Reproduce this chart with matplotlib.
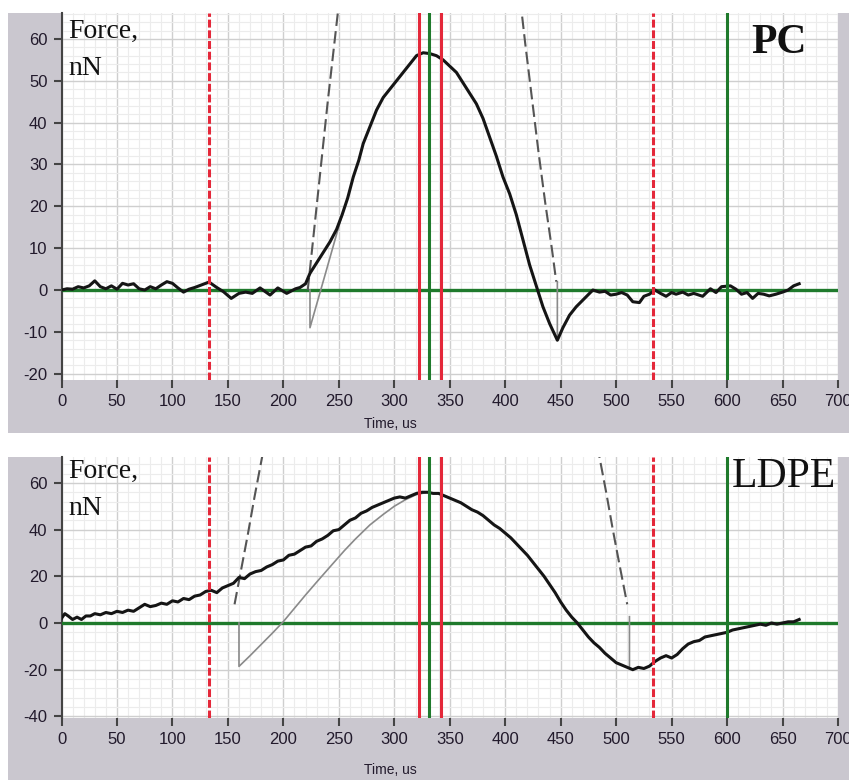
import numpy as np
import matplotlib
matplotlib.use("Agg")
import matplotlib.pyplot as plt
from matplotlib.patches import Rectangle
from matplotlib.ticker import MultipleLocator

plt.rcParams["axes.unicode_minus"] = False

# ---- PC panel data (time in us, force in nN) ----
pc_t = [0, 5, 10, 15, 20, 25, 30, 35, 40, 45, 50, 55, 60, 65, 70, 75, 80, 85, 90, 95,
        100, 105, 110, 115, 120, 126, 133, 140, 146, 153, 160, 166, 172, 179, 188, 195,
        203, 211, 215, 220, 224, 230, 236, 242, 248, 253, 258, 263, 268, 272, 278, 284,
        290, 296, 302, 308, 314, 320, 326, 332, 338, 344, 350, 356, 362, 368, 374, 380,
        386, 392, 398, 404, 410, 416, 422, 428, 434, 440, 447, 452, 458, 464, 470, 479,
        485, 490, 495, 500, 505, 510, 515, 521, 525, 530, 535, 540, 545, 550, 554, 560,
        565, 570, 578, 585, 590, 595, 603, 608, 613, 618, 623, 628, 633, 638, 644, 650,
        655, 660, 665]
pc_f = [0, 0.3, 0.2, 0.8, 0.5, 1.0, 2.2, 0.8, 0.3, 1.0, 0.2, 1.6, 1.2, 1.5, 0.3, 0.0, 0.8, 0.3, 1.2, 2.0,
        1.6, 0.5, -0.5, 0.2, 0.6, 1.2, 1.9, 0.6, -0.4, -2.0, -0.8, -0.5, -0.8, 0.5, -1.2, 0.5,
        -0.8, 0.3, 0.6, 1.5, 4.0, 6.5, 9.0, 11.5, 14.5, 18.0, 22.0, 27.0, 31.0, 35.0, 39.0, 43.0,
        46.0, 48.0, 50.0, 52.0, 54.0, 56.0, 56.7, 56.5, 56.0, 55.0, 53.5, 52.0, 49.5, 47.0, 44.5, 41.0,
        36.5, 32.0, 27.0, 23.0, 18.0, 12.0, 6.0, 1.0, -4.0, -8.0, -12.0, -9.0, -6.0, -4.0, -2.4, 0.0,
        -0.5, -0.3, -1.2, -1.0, -0.6, -1.2, -2.8, -3.0, -1.5, -1.0, 0.0, -0.8, -1.5, -0.6, -1.0, -0.5,
        -1.2, -0.8, -1.5, 0.3, -0.6, 0.8, 1.0, 0.2, -1.0, -0.6, -2.0, -0.8, -1.0, -1.4, -1.0, -0.5,
        0.0, 1.0, 1.5]
# visible parts of the fitted curve (the rest lies under the measured trace)
pc_fit_t = [224, 224, 238, 253, np.nan, 447, 447]
pc_fit_f = [0, -9, 4, 18, np.nan, 2, -11]
pc_dash_t = [222, 228, 234, 240, 246, 252, np.nan, 412, 418, 424, 430, 436, 442, 446]
pc_dash_f = [0, 15, 30, 45, 59, 73, np.nan, 73, 59, 46, 33, 21, 10, 2]

# ---- LDPE panel data ----
ld_t = [0, 3, 6, 10, 14, 18, 22, 26, 30, 35, 40, 45, 50, 55, 60, 65, 70, 75, 80, 85,
        90, 95, 100, 105, 110, 115, 120, 125, 130, 135, 140, 145, 150, 155, 160, 165, 170,
        175, 180, 185, 190, 195, 200, 205, 210, 215, 220, 225, 230, 235, 240, 245, 250,
        255, 260, 265, 270, 275, 280, 285, 290, 295, 300, 305, 310, 315, 320, 325, 330,
        335, 340, 345, 350, 355, 360, 365, 370, 375, 380, 385, 390, 395, 400, 405, 410,
        415, 420, 425, 430, 435, 440, 445, 450, 455, 460, 465, 470, 475, 480, 485, 490,
        495, 500, 505, 510, 515, 520, 525, 530, 535, 540, 545, 550, 555, 560, 565, 570,
        575, 580, 585, 590, 595, 600, 605, 610, 615, 620, 625, 630, 635, 640, 645, 650,
        655, 660, 665]
ld_f = [2, 4, 3, 1.5, 2.5, 1.5, 3, 3, 4, 3.5, 4.5, 4, 5, 4.5, 5.5, 5, 6.5, 8, 7, 7.5,
        8.5, 8, 9.5, 9, 10.5, 10, 11.5, 12, 13.5, 14, 13, 15, 16, 17, 19.5, 19, 21,
        22, 22.5, 24, 25, 26.5, 27, 29, 29.5, 31, 32.5, 33, 35, 36, 37.5, 39.5, 40,
        42, 44, 45, 47, 48, 49.5, 50.5, 51.5, 52.5, 53.5, 54, 53.5, 54.5, 55.5, 56, 56,
        55.5, 55.5, 54.5, 53.5, 52.5, 51.5, 50, 48.5, 47.5, 46, 44, 42, 40.5, 38.5, 36.5, 34,
        31.5, 29, 26, 23, 20, 16.5, 13, 9, 5.5, 2.5, 0, -3, -6, -8.5, -10.5, -13,
        -15, -17, -18, -19, -20, -19, -19.5, -18.5, -16.5, -15, -14, -15, -13.5, -11, -9, -8,
        -7.5, -6, -5.5, -5, -4.5, -4, -3, -2.5, -2, -1.5, -1, -0.5, -1, 0, -0.5, 0,
        0.5, 0.5, 1.5]
ld_fit_t = [160, 160, 170, 180, 190, 200, 210, 220, 230, 242, 255, 265, 278, 290, 300, 310,
            320, 330, np.nan, 512, 512]
ld_fit_f = [0, -18.6, -14, -9.2, -4.4, 0.6, 6.3, 12, 17.5, 24, 31, 36, 42, 46.5, 50, 52.8,
            55, 56, np.nan, -19.5, 2.7]
ld_dash_t = [156, 162, 168, 174, 180, 184, np.nan, 483, 485, 491, 497, 503, 510]
ld_dash_f = [8, 23, 38, 54, 69, 79, np.nan, 76, 71, 56, 40, 25, 8]

# marker lines
red_dashed_x = [133, 533]
red_solid_x = [322, 342]
green_x = [331, 600]

panel_labels = ["PC", "LDPE"]
y_limits = [(-21.5, 66.2), (-40.7, 71.1)]
y_major = [10, 20]

RED = "#e4283a"
GREEN = "#1f7a2c"
FRAME = "#cac7cf"
TXT = "#221a2c"
TICKFONT = ["Liberation Sans", "DejaVu Sans"]

fig = plt.figure(figsize=(8.49, 7.8), dpi=100)
W, H = 849.0, 780.0

# grey instrument-style frames behind each graph
fig.patches.append(Rectangle((8 / W, 1 - 433 / H), 1, 420 / H, transform=fig.transFigure,
                             facecolor=FRAME, edgecolor="none", zorder=-5))
fig.patches.append(Rectangle((8 / W, 0), 1, 1 - 457 / H, transform=fig.transFigure,
                             facecolor=FRAME, edgecolor="none", zorder=-5))

ax1 = fig.add_axes([61.5 / W, 1 - 380 / H, (838 - 61.5) / W, (380 - 13) / H])
ax2 = fig.add_axes([61.5 / W, 1 - 718 / H, (838 - 61.5) / W, (718 - 457) / H])

series = [
    (pc_t, pc_f, pc_fit_t, pc_fit_f, pc_dash_t, pc_dash_f),
    (ld_t, ld_f, ld_fit_t, ld_fit_f, ld_dash_t, ld_dash_f),
]

for i, ax in enumerate([ax1, ax2]):
    t, f, ft, ff, dt, df = series[i]
    ax.set_facecolor("white")
    ax.set_xlim(0, 700)
    ax.set_ylim(*y_limits[i])
    ax.xaxis.set_major_locator(MultipleLocator(50))
    ax.xaxis.set_minor_locator(MultipleLocator(10))
    ax.yaxis.set_major_locator(MultipleLocator(y_major[i]))
    ax.yaxis.set_minor_locator(MultipleLocator(y_major[i] / 5))
    ax.grid(which="major", color="#cfcfcf", lw=1.0)
    ax.grid(which="minor", color="#ececec", lw=0.8)
    ax.set_axisbelow(True)
    for s in ["top", "right", "bottom"]:
        ax.spines[s].set_visible(False)
    ax.spines["left"].set_color("#444444")
    ax.spines["left"].set_linewidth(1.5)
    ax.tick_params(which="major", direction="out", length=6, width=1.5, color="#444444",
                   labelsize=12, labelcolor=TXT, pad=4)
    ax.tick_params(which="minor", length=0)
    for lab in ax.get_xticklabels() + ax.get_yticklabels():
        lab.set_family(TICKFONT)

    # zero line
    ax.axhline(0, color=GREEN, lw=2.4, zorder=3)
    # fit and approach curves
    ax.plot(ft, ff, color="#8a8a8a", lw=1.2, zorder=4)
    ax.plot(dt, df, color="#555555", lw=1.5, dashes=(6, 2.5), zorder=4)
    # measured force
    ax.plot(t, f, color="#151515", lw=2.2, zorder=5)

    for x in red_dashed_x:
        ax.axvline(x, color=RED, lw=2.2, dashes=(2.6, 0.9), zorder=6)
    for x in red_solid_x:
        ax.axvline(x, color=RED, lw=2.2, zorder=6)
    for x in green_x:
        ax.axvline(x, color=GREEN, lw=2.2, zorder=6)

# labels inside graphs
for ax, y1, y2 in [(ax1, 60.2, 51.4), (ax2, 62.1, 46.3)]:
    ax.text(6, y1, "Force,", family="Liberation Serif", fontsize=20, color="#111111",
            va="baseline", zorder=8)
    ax.text(6, y2, "nN", family="Liberation Serif", fontsize=20, color="#111111",
            va="baseline", zorder=8)
ax1.text(622, 56.7, panel_labels[0], family="Liberation Serif", fontsize=30, fontweight="bold",
         color="#111111", va="baseline", zorder=8)
ax2.text(604, 58.3, panel_labels[1], family="Liberation Serif", fontsize=30, color="#111111",
         va="baseline", zorder=8)

fig.text(390 / W, 1 - 424 / H, "Time, us", ha="center", va="center", fontsize=10, color=TXT,
         family=TICKFONT)
fig.text(390 / W, 1 - 770 / H, "Time, us", ha="center", va="center", fontsize=10, color=TXT,
         family=TICKFONT)

fig.savefig("out.png", dpi=100)
